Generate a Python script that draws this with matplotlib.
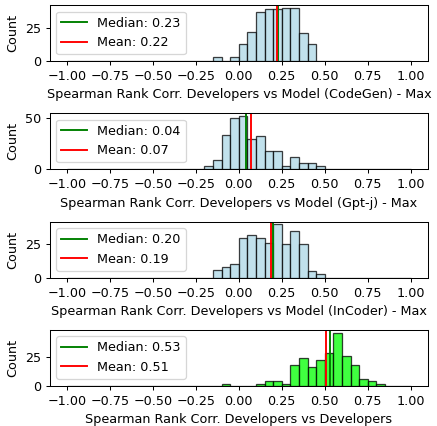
import numpy as np
from matplotlib import pyplot as plt
from matplotlib.ticker import MultipleLocator

# Bordes de los bins: -1 a 1 con paso 0.05
bordes = np.linspace(-1, 1, 41)
centros = (bordes[:-1] + bordes[1:]) / 2

# Conteos por bin, indexados por el borde izquierdo
codegen_bins = {-0.15: 3, -0.05: 3, 0.00: 13, 0.05: 22, 0.10: 37, 0.15: 39,
                0.20: 39, 0.25: 40, 0.30: 40, 0.35: 21, 0.40: 13}
gptj_bins = {-0.20: 3, -0.15: 9, -0.10: 34, -0.05: 50, 0.00: 52, 0.05: 30,
             0.10: 33, 0.15: 18, 0.20: 18, 0.25: 3, 0.30: 12, 0.35: 6,
             0.40: 6, 0.45: 3}
incoder_bins = {-0.15: 6, -0.10: 8, -0.05: 10, 0.00: 30, 0.05: 32, 0.10: 30,
                0.15: 26, 0.20: 40, 0.25: 25, 0.30: 35, 0.35: 25, 0.40: 5,
                0.45: 3}
devs_bins = {-0.10: 2, 0.10: 2, 0.15: 4, 0.20: 4, 0.25: 2, 0.30: 18,
             0.35: 24, 0.40: 16, 0.45: 22, 0.50: 28, 0.55: 46, 0.60: 26,
             0.65: 18, 0.70: 6, 0.75: 4, 0.80: 2}

medianas = [0.23, 0.04, 0.20, 0.53]
medias = [0.22, 0.07, 0.19, 0.51]
etiquetas = [
    "Spearman Rank Corr. Developers vs Model (CodeGen) - Max",
    "Spearman Rank Corr. Developers vs Model (Gpt-j) - Max",
    "Spearman Rank Corr. Developers vs Model (InCoder) - Max",
    "Spearman Rank Corr. Developers vs Developers",
]
colores = ["lightblue", "lightblue", "lightblue", "lime"]
paso_y = [25, 50, 25, 25]


def a_conteos(dic):
    """Convierte {borde_izq: conteo} en un array de 40 bins"""
    conteos = np.zeros(len(centros))
    for izq, n in dic.items():
        conteos[int(round((izq + 1) / 0.05))] = n
    return conteos


datos = [a_conteos(d) for d in (codegen_bins, gptj_bins, incoder_bins, devs_bins)]

# dpi 92 para que todo quede un poco más pequeño, como en la referencia
dpi = 92
fig, axes = plt.subplots(4, 1, figsize=(437 / dpi, 426 / dpi), dpi=dpi)
for i, ax in enumerate(axes):
    ax.hist(centros, bins=bordes, weights=datos[i], color=colores[i],
            edgecolor="black", alpha=0.75)
    ax.axvline(medianas[i], color="green", label=f"Median: {medianas[i]:.2f}")
    ax.axvline(medias[i], color="red", label=f"Mean: {medias[i]:.2f}")
    ax.set_xlabel(etiquetas[i])
    ax.set_ylabel("Count")
    ax.yaxis.set_major_locator(MultipleLocator(paso_y[i]))
    ax.set_xticks(np.arange(-1, 1.01, 0.25))
    ax.legend(loc="upper left")

plt.subplots_adjust(left=0.114, right=0.979, top=0.988, bottom=0.094, hspace=0.93)
plt.savefig("out.png", dpi=dpi)
